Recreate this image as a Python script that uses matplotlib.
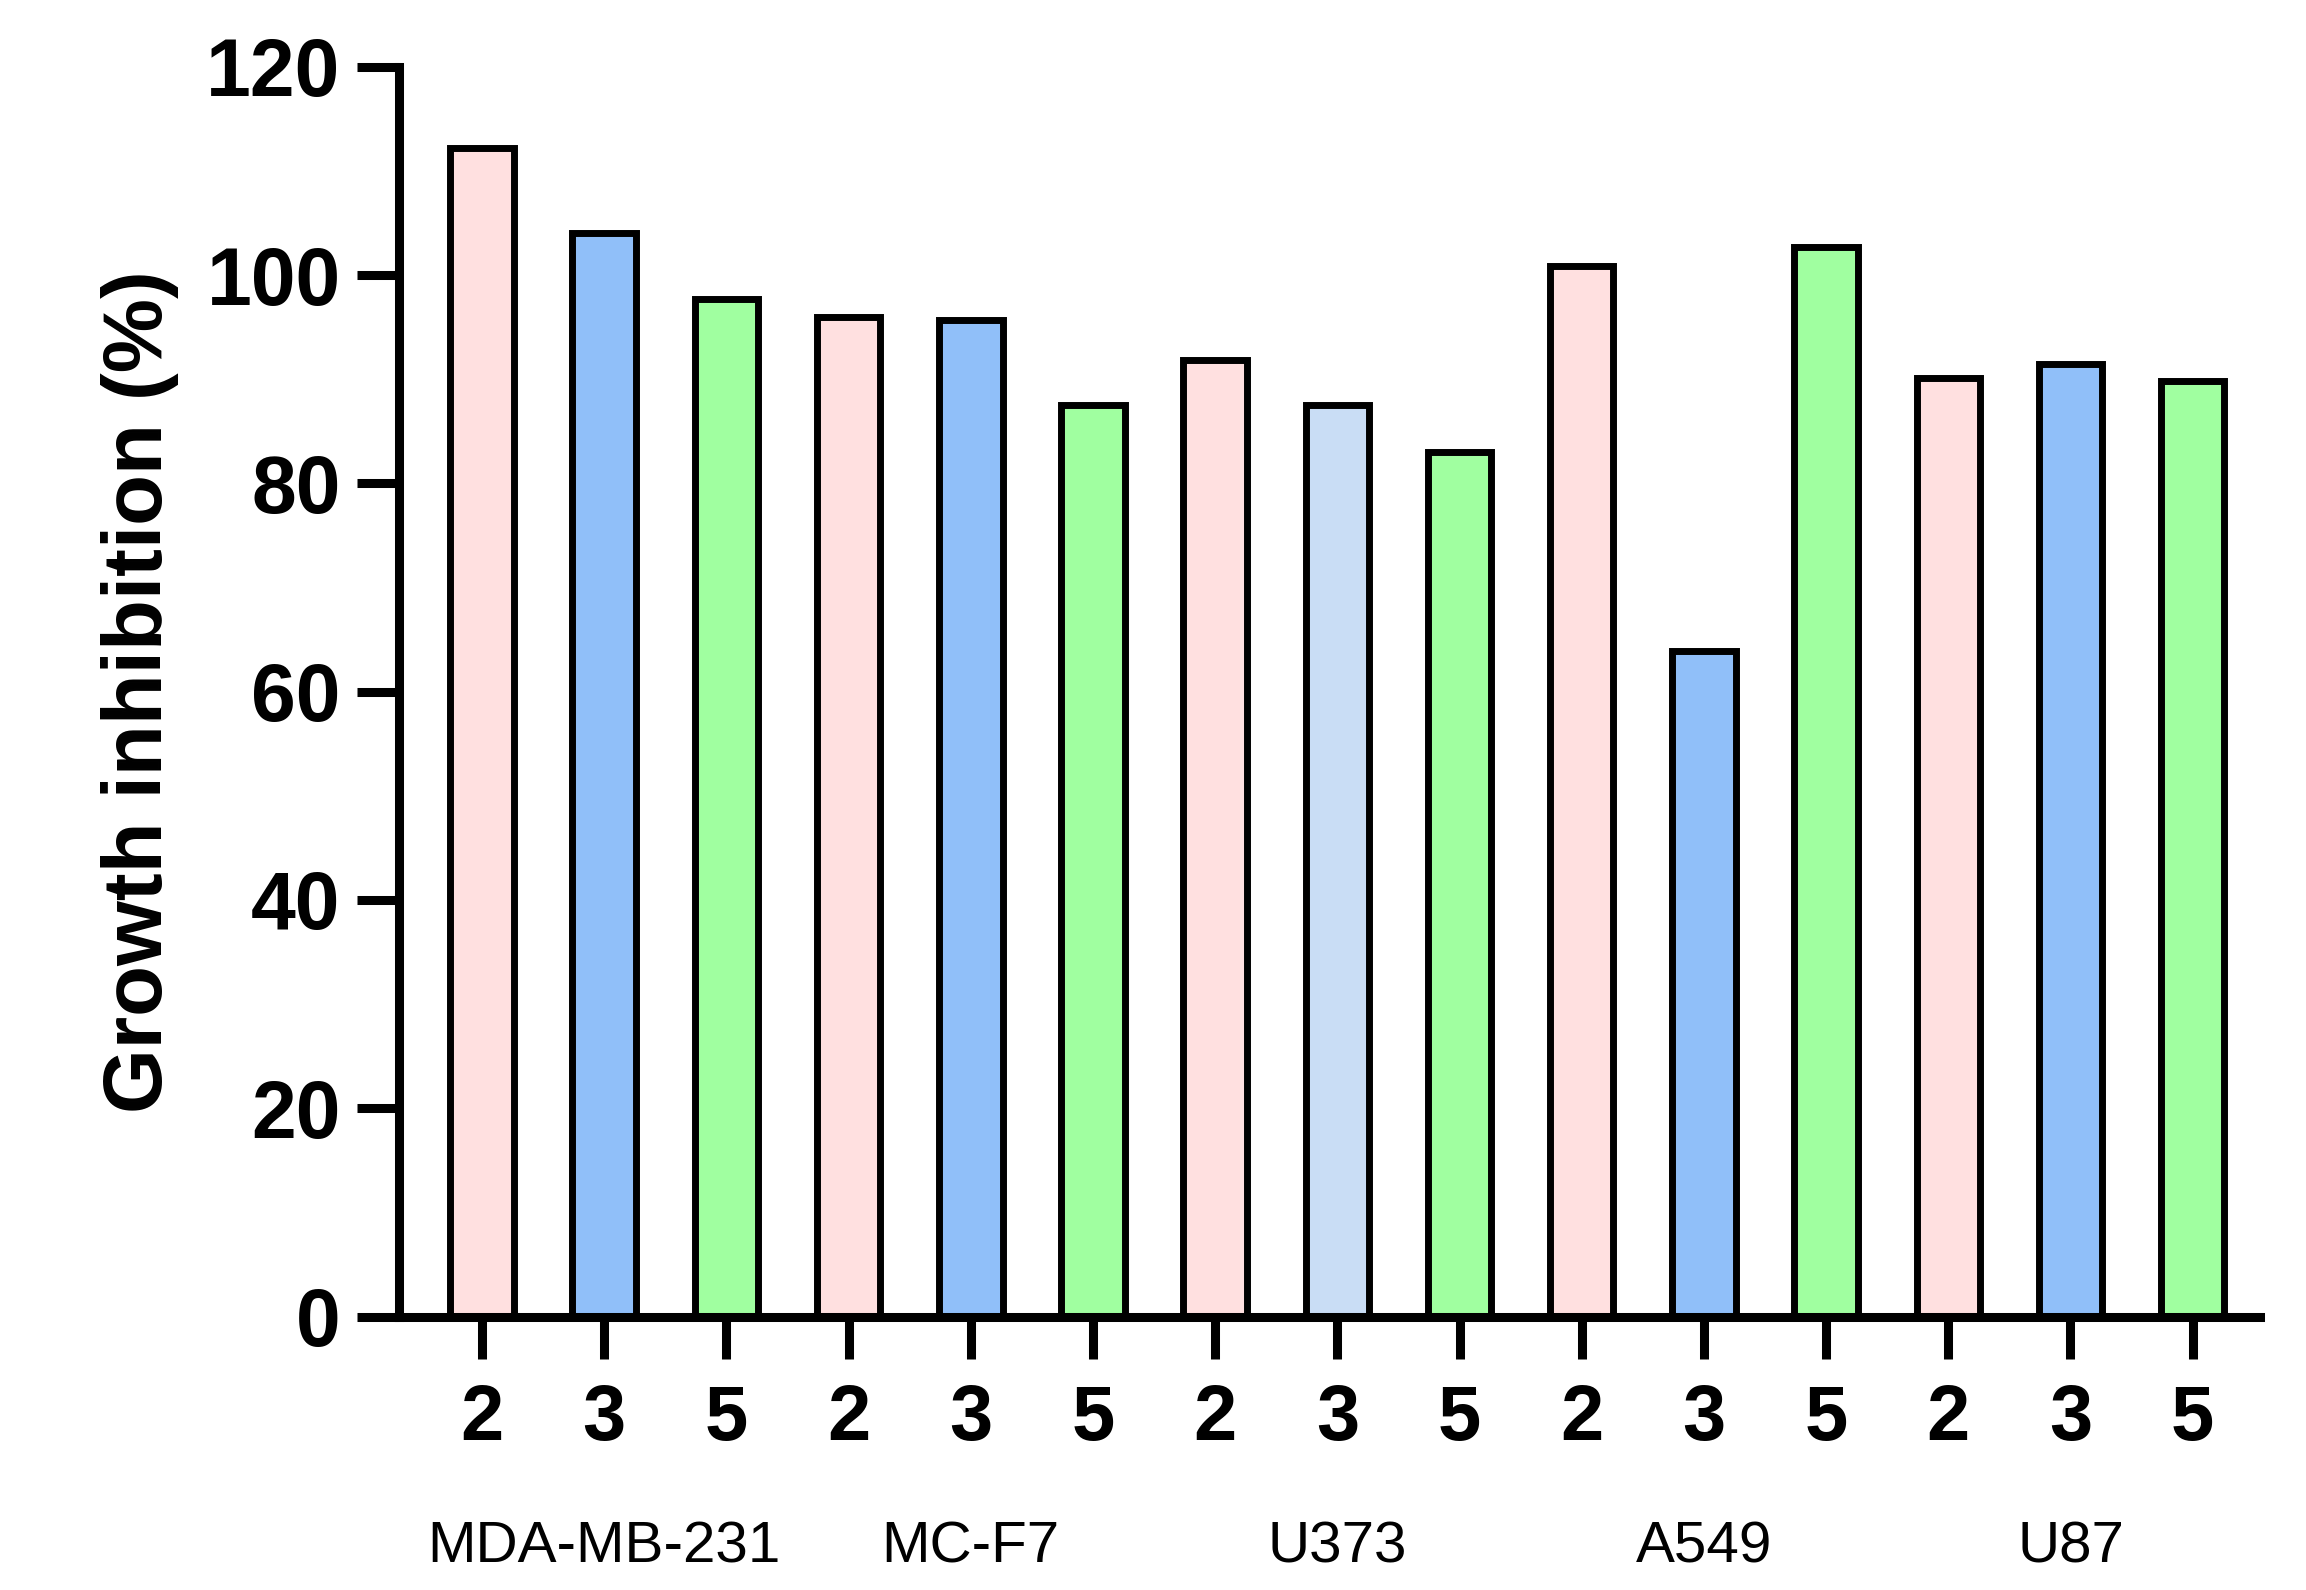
import matplotlib
matplotlib.use("Agg")
import matplotlib.pyplot as plt
import matplotlib.transforms as mtransforms

groups = ["MDA-MB-231", "MC-F7", "U373", "A549", "U87"]
compounds = ["2", "3", "5"]
values = [112.2, 104.0, 97.7,
          96.0, 95.7, 87.5,
          91.8, 87.5, 83.0,
          100.9, 63.9, 102.7,
          90.1, 91.5, 89.8]
colors = ["#FFE0E0", "#90BFF9", "#A0FFA0",
          "#FFE0E0", "#90BFF9", "#A0FFA0",
          "#FFE0E0", "#C9DDF5", "#A0FFA0",
          "#FFE0E0", "#90BFF9", "#A0FFA0",
          "#FFE0E0", "#90BFF9", "#A0FFA0"]

plt.rcParams['font.family'] = ['Liberation Sans', 'DejaVu Sans']
fig = plt.figure(figsize=(23.06, 15.9), dpi=100)
ax = fig.add_axes([0.173, 0.172, 0.807, 0.786])
x = list(range(len(values)))
ax.bar(x, values, width=0.52, color=colors, edgecolor="black", linewidth=5)
ax.set_xlim(-0.68, 14.55)
ax.set_ylim(0, 120)
ax.set_yticks(range(0, 121, 20))
ax.set_xticks(x)
ax.set_xticklabels(compounds * len(groups), fontsize=56, fontweight="bold")
ax.tick_params(axis="y", labelsize=58, width=6.5, length=30, pad=12)
for t in ax.get_yticklabels():
    t.set_fontweight("bold")
ax.tick_params(axis="x", width=6.5, length=30, pad=18)
for s in ["top", "right"]:
    ax.spines[s].set_visible(False)
for s in ["left", "bottom"]:
    ax.spines[s].set_linewidth(6.5)
ax.set_ylabel("Growth inhibition (%)", fontsize=60, fontweight="bold", labelpad=20)
trans = mtransforms.blended_transform_factory(ax.transData, ax.transAxes)
for i, g in enumerate(groups):
    ax.text(3 * i + 1 - 0.0, -0.185, g, transform=trans, ha="center", va="center", fontsize=42)
fig.savefig("out.png", dpi=100)
